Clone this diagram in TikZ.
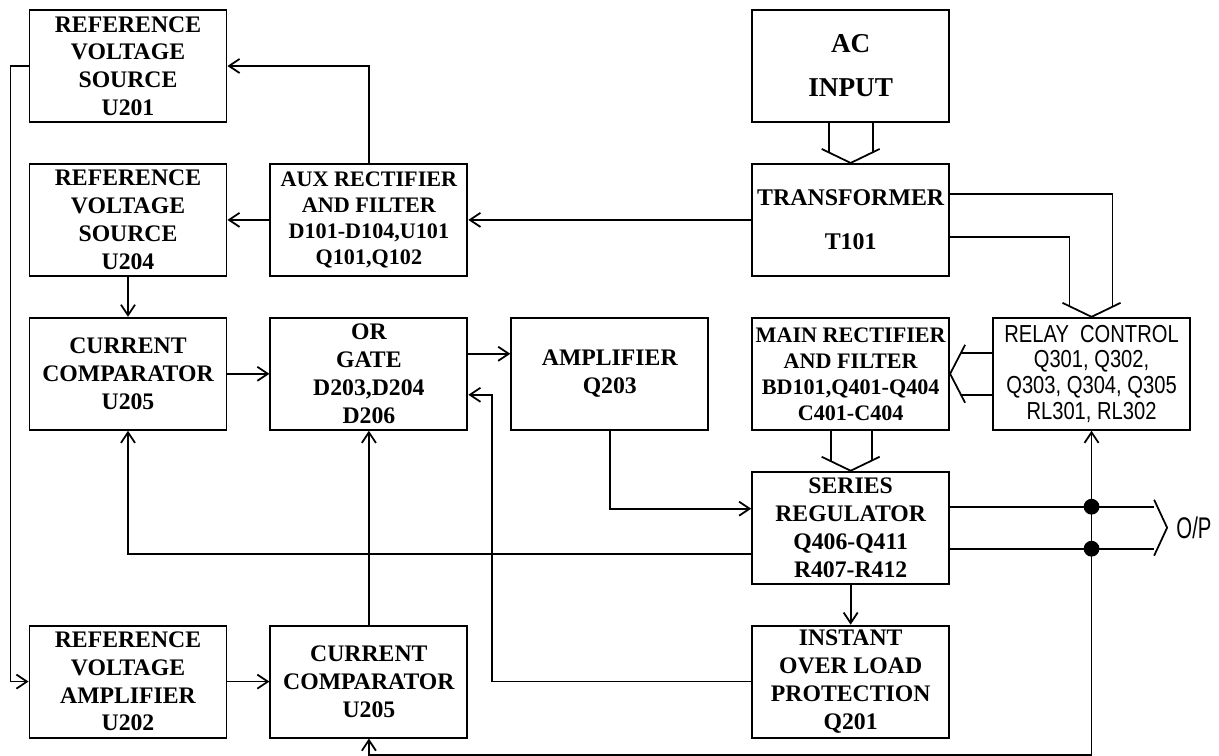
\documentclass[tikz,border=0pt]{standalone}
\usepackage{fontspec}
\setmainfont{Liberation Serif}
\newfontfamily\relayfont[FakeStretch=0.82]{Liberation Sans}
\newfontfamily\opfont[FakeStretch=0.68]{Liberation Sans}
\usetikzlibrary{positioning, arrows.meta, calc}

\begin{document}
\begin{tikzpicture}[
  x=0.02cm, y=-0.02cm,
  font=\fontsize{13.5}{15.8}\selectfont\bfseries,
  node distance=0.8cm and 0.84cm,
  block/.style={
    draw, line width=1.1pt, minimum width=3.94cm, minimum height=2.24cm,
    inner xsep=1pt, inner ysep=2pt, align=center
  },
  wideblock/.style={block, font=\fontsize{12.6}{14.8}\selectfont\bfseries},
  spacedblock/.style={block, font=\fontsize{13.6}{25}\selectfont\bfseries},
  relayblock/.style={block, font=\relayfont\fontsize{14}{14.6}\selectfont},
  wire/.style={line width=1pt},
  bus/.style={wire, line join=miter},
  arrow/.style={wire, -{Straight Barb[length=6pt, width=8pt]}},
  dot/.style={circle, fill, inner sep=0pt, minimum size=9pt},
]
\useasboundingbox (0,0) rectangle (1219,756);

\node[block] (ref201) at (128,66) {REFERENCE\\VOLTAGE\\SOURCE\\U201};
\node[block, below=of ref201] (ref204) {REFERENCE\\VOLTAGE\\SOURCE\\U204};
\node[block, below=of ref204] (comp1) {CURRENT\\COMPARATOR\\U205};
\node[wideblock, right=of ref204] (aux) {AUX RECTIFIER\\AND FILTER\\D101-D104,U101\\Q101,Q102};
\node[block, right=of comp1] (orgate) {OR\\GATE\\D203,D204\\D206};
\node[block, right=of orgate] (amp) {AMPLIFIER\\Q203};
\node[wideblock, right=of amp] (mainrect) {MAIN RECTIFIER\\AND FILTER\\BD101,Q401-Q404\\C401-C404};
\node[relayblock, right=of mainrect] (relay) {RELAY\ \ CONTROL\\Q301, Q302,\\Q303, Q304, Q305\\RL301, RL302};
\node[spacedblock, above=of mainrect] (trans) {TRANSFORMER\\T101};
\node[spacedblock, above=of trans, font=\fontsize{15.5}{25}\selectfont\bfseries] (acin) {AC\\INPUT};
\node[block, below=of mainrect] (series) {SERIES\\REGULATOR\\Q406-Q411\\R407-R412};
\node[block, below=of series] (instant) {INSTANT\\OVER LOAD\\PROTECTION\\Q201};
\node[block] (comp2) at (orgate |- instant) {CURRENT\\COMPARATOR\\U205};
\node[block, left=of comp2] (refamp) {REFERENCE\\VOLTAGE\\AMPLIFIER\\U202};

\draw[bus] ($(acin.south)+(-22,0)$) -- ($(trans.north)+(-22,-11)$);
\draw[bus] ($(acin.south)+(22,0)$) -- ($(trans.north)+(22,-11)$);
\draw[bus] ($(trans.north)+(-29,-14)$) -- (trans.north) -- ($(trans.north)+(29,-14)$);

\draw[bus] ($(trans.east)+(0,-26)$) -| ($(relay.north)+(21,-10)$);
\draw[bus] ($(trans.east)+(0,17)$) -| ($(relay.north)+(-22,-11)$);
\draw[bus] ($(relay.north)+(-29,-14)$) -- (relay.north) -- ($(relay.north)+(29,-14)$);

\draw[bus] ($(relay.west)+(0,-21)$) -- ($(mainrect.east)+(11,-21)$);
\draw[bus] ($(relay.west)+(0,21)$) -- ($(mainrect.east)+(11,21)$);
\draw[bus] ($(mainrect.east)+(15,-29)$) -- (mainrect.east) -- ($(mainrect.east)+(15,29)$);

\draw[bus] ($(mainrect.south)+(-20,0)$) -- ($(series.north)+(-20,-10)$);
\draw[bus] ($(mainrect.south)+(21,0)$) -- ($(series.north)+(21,-10)$);
\draw[bus] ($(series.north)+(-29,-14)$) -- (series.north) -- ($(series.north)+(29,-14)$);

\draw[arrow] (trans.west) -- (aux.east);
\draw[arrow] (aux.north) |- (ref201.east);
\draw[arrow] (aux.west) -- (ref204.east);
\draw[arrow] (ref204.south) -- (comp1.north);
\draw[arrow] (comp1.east) -- (orgate.west);
\draw[arrow] ($(orgate.east)+(0,-20)$) -- ($(amp.west)+(0,-20)$);
\draw[arrow] (amp.south) |- ($(series.west)+(0,-19)$);
\draw[arrow] ($(series.west)+(0,26)$) -| (comp1.south);
\draw[arrow] (series.south) -- (instant.north);
\draw[arrow] (instant.west) -| ($(orgate.east)+(24,21)$) -- ($(orgate.east)+(0,21)$);
\draw[arrow] (comp2.north) -- (orgate.south);
\draw[arrow] (ref201.west) -- ++(-18,0) |- (refamp.west);
\draw[arrow] (refamp.east) -- (comp2.west);

\coordinate (optip) at ($(series.east)+(217,0)$);
\draw[wire] ($(series.east)+(0,-21)$) coordinate (outa) -- ($(optip)+(-13,-21)$);
\draw[wire] ($(series.east)+(0,21)$) coordinate (outb) -- ($(optip)+(-13,21)$);
\draw[bus] ($(optip)+(-13,-28)$) -- (optip) -- ($(optip)+(-13,28)$);
\node[anchor=west, inner sep=0pt, font=\opfont\fontsize{17}{17}\selectfont] (op) at ($(optip)+(9,0)$) {O/P};

\draw[wire, {Straight Barb[length=6pt, width=8pt]}-{Straight Barb[length=6pt, width=8pt]}]
  (relay.south) -- ($(relay.south)+(0,324)$) -| (comp2.south);
\node[dot] (ja) at (relay.south |- outa) {};
\node[dot] (jb) at (relay.south |- outb) {};

\end{tikzpicture}
\end{document}
